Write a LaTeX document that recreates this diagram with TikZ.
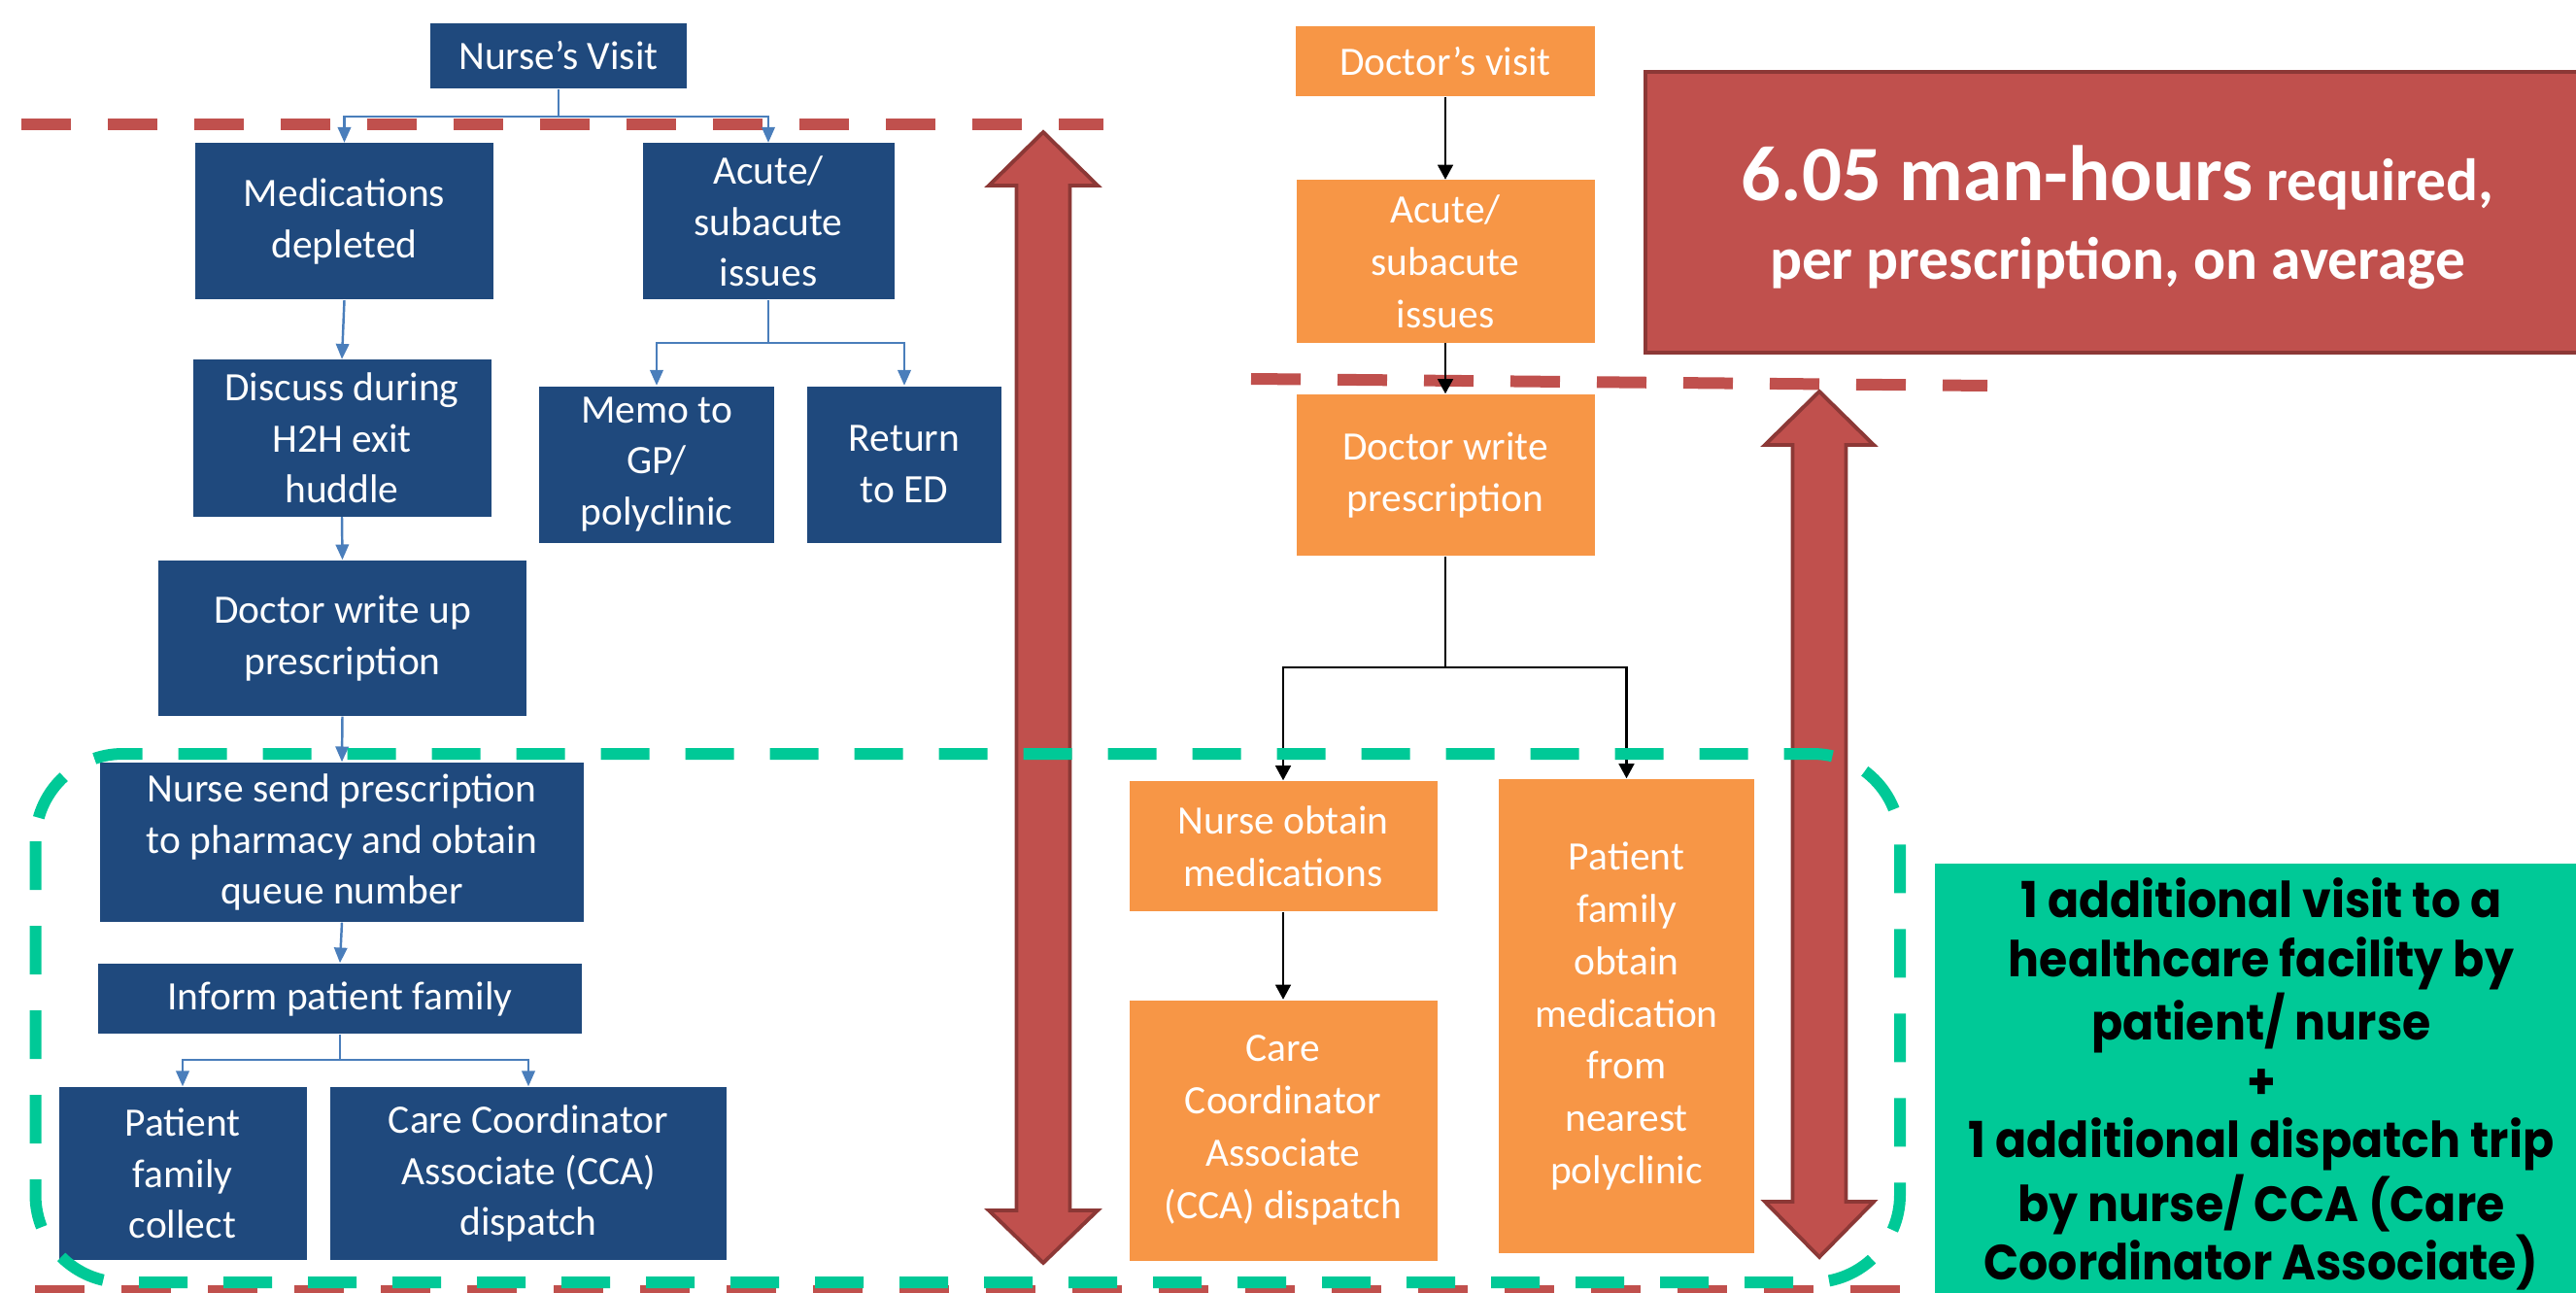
\documentclass[tikz,border=0pt]{standalone}
\usepackage{fontspec}
\setmainfont{Carlito}
\newfontfamily\gothfont[FakeStretch=0.93]{Poppins}
\usepackage{tikz}
\usetikzlibrary{arrows.meta,positioning,calc}
\definecolor{navybox}{RGB}{31,73,125}
\definecolor{lineblue}{RGB}{74,126,187}
\definecolor{orngbox}{RGB}{247,150,70}
\definecolor{hrsred}{RGB}{192,80,77}
\definecolor{hrsdark}{RGB}{140,56,54}
\definecolor{tripgreen}{RGB}{0,201,151}

\begin{document}
\begin{tikzpicture}[
  >=Triangle,
  % Nurse-side step box (navy)
  nb/.style  = {fill=navybox, text=white, inner sep=0pt, align=center,
                font=\fontsize{11.8}{15}\selectfont},
  % Doctor-side step box (orange)
  ob/.style  = {fill=orngbox, text=white, inner sep=0pt, align=center,
                font=\fontsize{11.8}{15.3}\selectfont},
  barr/.style = {-{Triangle[length=4.5pt,width=3.8pt]},
                 line width=0.7pt, color=lineblue},
  karr/.style = {-{Triangle[length=4.3pt,width=4.5pt]},
                 line width=0.6pt, color=black},
  % Cut-off lines and the grouped region
  rdash/.style = {color=hrsred, line width=0.12cm,
                  dash pattern=on 0.51cm off 0.38cm},
  gdash/.style = {color=tripgreen, line width=0.12cm,
                  dash pattern=on 0.5cm off 0.37cm, rounded corners=0.9cm},
  bigarr/.style = {fill=hrsred, draw=hrsdark, line width=1.1pt, line join=miter}
]
\useasboundingbox (0,0) rectangle (26.52,-13.31);
\clip (0,0) rectangle (26.52,-13.31);

% Red cut-off lines
\draw[rdash] (0.22,-1.28) -- (11.36,-1.28);
\draw[rdash] (12.88,-3.90) -- (20.46,-3.97);
\draw[rdash] (0.36,-13.29) -- (20.90,-13.29);

% Nurse's visit flow
\node[nb, minimum width=2.64cm, minimum height=0.67cm](NV)  at (5.75,-0.575){Nurse’s Visit};
\node[nb, minimum width=3.07cm, minimum height=1.61cm](MD)  at (3.545,-2.28){Medications\\depleted};
\node[nb, minimum width=2.59cm, minimum height=1.61cm](NAI) at (7.91,-2.28){Acute/\\subacute\\issues};
\node[nb, minimum width=3.07cm, minimum height=1.61cm](DH)  at (3.52,-4.51){Discuss during\\H2H exit\\huddle};
\node[nb, minimum width=2.42cm, minimum height=1.61cm](MEMO) at (6.76,-4.78){Memo to\\GP/\\polyclinic};
\node[nb, minimum width=2.00cm, minimum height=1.61cm](ED)  at (9.31,-4.78){Return\\to ED};
\node[nb, minimum width=3.79cm, minimum height=1.60cm](DWU) at (3.525,-6.57){Doctor write up\\prescription};
\node[nb, minimum width=4.98cm, minimum height=1.64cm](NS)  at (3.52,-8.67){Nurse send prescription\\to pharmacy and obtain\\queue number};
\node[nb, minimum width=4.98cm, minimum height=0.72cm](IPF) at (3.50,-10.28){Inform patient family};
\node[nb, minimum width=2.55cm, minimum height=1.78cm](PFC) at (1.88,-12.08){Patient\\family\\collect};
\node[nb, minimum width=4.08cm, minimum height=1.78cm](NCCA) at (5.44,-12.08){Care Coordinator\\Associate (CCA)\\dispatch};

\coordinate(NVJ)  at (5.75,-1.20);
\coordinate(NAIJ) at (7.91,-3.53);
\coordinate(IPFJ) at (3.50,-10.91);
\draw[barr](NV.south)--(NVJ)-|(MD.north);
\draw[barr](NVJ)-|(NAI.north);
\draw[barr](NAI.south)--(NAIJ)-|(MEMO.north);
\draw[barr](NAIJ)-|(ED.north);
\draw[barr](MD.south)--(DH.north);
\draw[barr](DH.south)--(DWU.north);
\draw[barr](DWU.south)--(NS.north);
\draw[barr](NS.south)--(IPF.north);
\draw[barr](IPF.south)--(IPFJ)-|(PFC.north);
\draw[barr](IPFJ)-|(NCCA.north);

% Doctor's visit flow
\node[ob, minimum width=3.08cm, minimum height=0.72cm](DV)  at (14.88,-0.63){Doctor’s visit};
\node[ob, minimum width=3.07cm, minimum height=1.67cm](OAI) at (14.88,-2.69){Acute/\\subacute\\issues};
\node[ob, minimum width=3.07cm, minimum height=1.66cm](DWP) at (14.88,-4.89){Doctor write\\prescription};
\node[ob, minimum width=3.17cm, minimum height=1.34cm](NOM) at (13.21,-8.71){Nurse obtain\\medications};
\node[ob, minimum width=3.17cm, minimum height=2.68cm](OCCA) at (13.21,-11.635){Care\\Coordinator\\Associate\\(CCA) dispatch};
\node[ob, minimum width=2.63cm, minimum height=4.88cm](PFO) at (16.745,-10.46){Patient\\family\\obtain\\medication\\from\\nearest\\polyclinic};

\coordinate(DWPJ) at (14.88,-6.87);
\draw[karr](DV.south)--(OAI.north);
\draw[karr](OAI.south)--(DWP.north);
\draw[karr](DWP.south)--(DWPJ)-|(NOM.north);
\draw[karr](DWPJ)-|(PFO.north);
\draw[karr](NOM.south)--(OCCA.north);

% Man-hour spans (double block arrows)
\draw[bigarr](10.74,-1.36)--(11.30,-1.91)--(11.015,-1.91)--(11.015,-12.46)--(11.30,-12.46)
  --(10.74,-13.00)--(10.18,-12.46)--(10.465,-12.46)--(10.465,-1.91)--(10.18,-1.91)--cycle;
\draw[bigarr](18.73,-4.03)--(19.29,-4.58)--(19.005,-4.58)--(19.005,-12.37)--(19.29,-12.37)
  --(18.73,-12.94)--(18.17,-12.37)--(18.455,-12.37)--(18.455,-4.58)--(18.17,-4.58)--cycle;

% Summary boxes
\node[fill=hrsred, draw=hrsdark, line width=1.2pt, text=white, align=center,
      minimum width=9.72cm, minimum height=2.89cm, inner sep=0pt,
      font=\bfseries\fontsize{17.5}{23.3}\selectfont](MH) at (21.80,-2.185)
      {\rule{0pt}{19.2pt}{\fontsize{23}{23}\selectfont 6.05 man-hours} required,\\per prescription, on average};
\node[fill=tripgreen, text=black, align=center,
      minimum width=6.73cm, minimum height=4.54cm, inner sep=0pt,
      font=\gothfont\bfseries\fontsize{14.5}{17.2}\selectfont](EXTRA) at (23.28,-11.16)
      {1 additional visit to a\\healthcare facility by\\patient/ nurse\\+\\1 additional dispatch trip\\by nurse/ CCA (Care\\Coordinator Associate)};

% Grouped region (extra trip)
\draw[gdash](0.365,-7.76) rectangle (19.56,-13.20);

\end{tikzpicture}
\end{document}
